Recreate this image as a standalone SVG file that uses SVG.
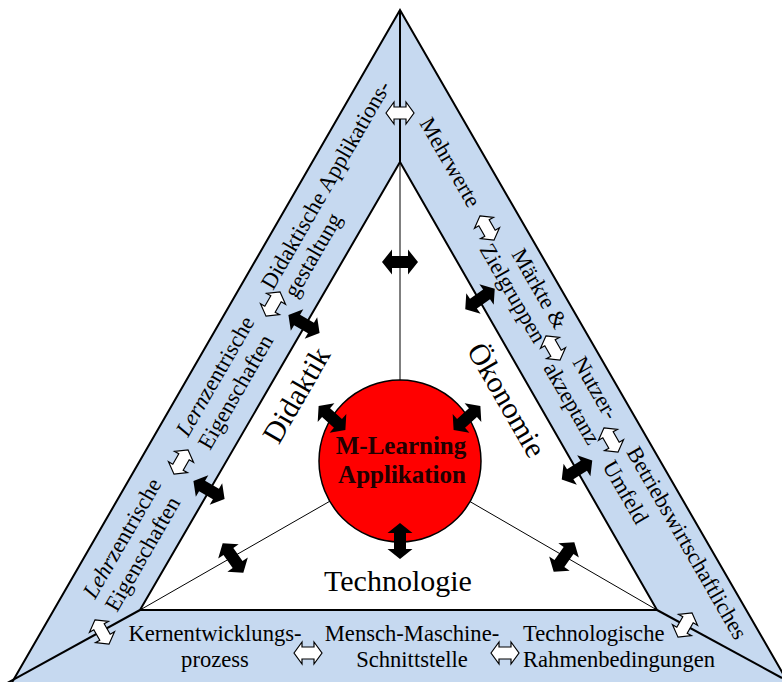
<svg xmlns="http://www.w3.org/2000/svg" xmlns:xlink="http://www.w3.org/1999/xlink" width="782" height="682" viewBox="0 0 782 682">
<style>
.band{fill:#C6D9F0;stroke:#000;stroke-width:2}
.inner{fill:#fff;stroke:#000;stroke-width:2}
.div{stroke:#000;stroke-width:2;fill:none}
.rad{stroke:#000;stroke-width:1;fill:none}
.t{font-family:"Liberation Serif","Times New Roman",serif;font-size:22.6px;fill:#000}
.big{font-family:"Liberation Serif","Times New Roman",serif;font-size:30px;fill:#000;text-anchor:middle}
.ctr{font-family:"Liberation Serif","Times New Roman",serif;font-size:25px;font-weight:bold;fill:#200000;text-anchor:middle}
.mid{text-anchor:middle}
.wa{fill:#fff;stroke:#000;stroke-width:1.2}
.ba{fill:#000}
</style>
<defs>
<path id="warr" class="wa" d="M-14,0 L-6,-11 L-6,-6 L6,-6 L6,-11 L14,0 L6,11 L6,6 L-6,6 L-6,11 Z"/>
<path id="barr" class="ba" d="M-18,0 L-8,-12.5 L-8,-6 L8,-6 L8,-12.5 L18,0 L8,12.5 L8,6 L-8,6 L-8,12.5 Z"/>
</defs>
<g id="frame">
<polygon class="band" points="400,10 0.7,702 799.3,702"/>
<polygon class="inner" points="400,162 140,610 657,610"/>
</g>
<g id="connectors">
<line class="div" x1="400" y1="10" x2="400" y2="162"/>
<line class="div" x1="140" y1="610" x2="0" y2="687"/>
<line class="div" x1="657" y1="610" x2="782" y2="678"/>
<line class="rad" x1="400" y1="162" x2="400" y2="461"/>
<line class="rad" x1="140" y1="610" x2="400" y2="461"/>
<line class="rad" x1="657" y1="610" x2="400" y2="461"/>
</g>
<g id="center">
<circle cx="400" cy="461" r="81" fill="#FF0000" stroke="#000" stroke-width="1.5"/>
<text class="ctr" x="401" y="454">M-Learning</text>
<text class="ctr" x="402" y="483">Applikation</text>
</g>
<g id="arrows">
<use xlink:href="#barr" transform="translate(400,262)"/>
<use xlink:href="#barr" transform="translate(304,324) rotate(30)"/>
<use xlink:href="#barr" transform="translate(209,490) rotate(30)"/>
<use xlink:href="#barr" transform="translate(233,558) rotate(55)"/>
<use xlink:href="#barr" transform="translate(564,557) rotate(-55)"/>
<use xlink:href="#barr" transform="translate(480,299) rotate(-35)"/>
<use xlink:href="#barr" transform="translate(577,470) rotate(-32)"/>
<use xlink:href="#barr" transform="translate(332,418) rotate(42)"/>
<use xlink:href="#barr" transform="translate(467,418) rotate(-42)"/>
<use xlink:href="#barr" transform="translate(400,541) rotate(90)"/>
<use xlink:href="#warr" transform="translate(400,113)"/>
<use xlink:href="#warr" transform="translate(487,228) rotate(60)"/>
<use xlink:href="#warr" transform="translate(553,348) rotate(60)"/>
<use xlink:href="#warr" transform="translate(611,440) rotate(60)"/>
<use xlink:href="#warr" transform="translate(685,625) rotate(-60)"/>
<use xlink:href="#warr" transform="translate(273,304) rotate(-60)"/>
<use xlink:href="#warr" transform="translate(181,462) rotate(-60)"/>
<use xlink:href="#warr" transform="translate(102,632) rotate(60)"/>
<use xlink:href="#warr" transform="translate(308,653)"/>
<use xlink:href="#warr" transform="translate(505,653)"/>
</g>
<g id="didaktik">
<text class="big" transform="translate(305,400) rotate(-60)">Didaktik</text>
<text class="t" transform="translate(273,291) rotate(-60)">Didaktische Applikations-</text>
<text class="t" transform="translate(296,299) rotate(-60)">gestaltung</text>
<text class="t" transform="translate(188,438) rotate(-60)"><tspan font-style="italic">Lern</tspan>zentrische</text>
<text class="t" transform="translate(210,451) rotate(-60)">Eigenschaften</text>
<text class="t" transform="translate(95,600) rotate(-60)"><tspan font-style="italic">Lehr</tspan>zentrische</text>
<text class="t" transform="translate(117,613) rotate(-60)">Eigenschaften</text>
</g>
<g id="oekonomie">
<text class="big" transform="translate(498,405) rotate(60)">Ökonomie</text>
<text class="t" transform="translate(419,123) rotate(60)">Mehrwerte</text>
<text class="t" transform="translate(511,254) rotate(60)">Märkte &amp;</text>
<text class="t" transform="translate(479,249) rotate(60)">Zielgruppen</text>
<text class="t" transform="translate(572,362) rotate(60)">Nutzer-</text>
<text class="t" transform="translate(543,368) rotate(60)">akzeptanz</text>
<text class="t" transform="translate(626,452) rotate(60)">Betriebswirtschaftliches</text>
<text class="t" transform="translate(602,466) rotate(60)">Umfeld</text>
</g>
<g id="technologie">
<text class="big" x="398" y="591">Technologie</text>
<text class="t mid" x="215" y="641">Kernentwicklungs-</text>
<text class="t mid" x="215" y="667">prozess</text>
<text class="t mid" x="412" y="641">Mensch-Maschine-</text>
<text class="t mid" x="412" y="667">Schnittstelle</text>
<text class="t" x="523" y="641">Technologische</text>
<text class="t" x="523" y="667">Rahmenbedingungen</text>
</g>
</svg>
